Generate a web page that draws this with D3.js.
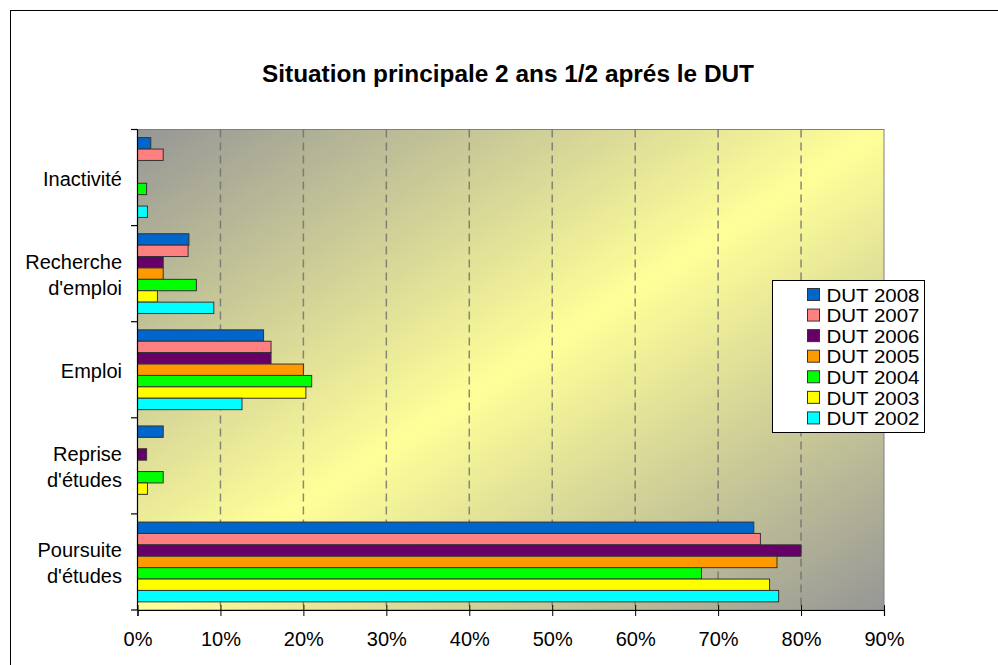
<!DOCTYPE html>
<html>
<head>
<meta charset="utf-8">
<script src="https://cdn.jsdelivr.net/npm/d3@7"></script>
<style>
  html, body { margin: 0; padding: 0; background: #fff; }
  svg { display: block; font-family: Arial, "Liberation Sans", sans-serif; }
</style>
</head>
<body>
<svg id="chart" width="998" height="665"></svg>
<script>
const title = "Situation principale 2 ans 1/2 aprés le DUT";
const categories = ["Inactivité", "Recherche d'emploi", "Emploi", "Reprise d'études", "Poursuite d'études"];
const categoryLines = [["Inactivité"], ["Recherche", "d'emploi"], ["Emploi"], ["Reprise", "d'études"], ["Poursuite", "d'études"]];
const series = ["DUT 2008", "DUT 2007", "DUT 2006", "DUT 2005", "DUT 2004", "DUT 2003", "DUT 2002"];
const colors = ["#0066CC", "#FF8080", "#660066", "#FF9900", "#00FF00", "#FFFF00", "#00FFFF"];
const dut2008 = [1.6, 6.2, 15.2, 3.1, 74.3];
const dut2007 = [3.1, 6.1, 16.1, null, 75.1];
const dut2006 = [null, 3.1, 16.1, 1.1, 80.0];
const dut2005 = [null, 3.1, 20.0, null, 77.1];
const dut2004 = [1.1, 7.1, 21.0, 3.1, 68.0];
const dut2003 = [null, 2.4, 20.3, 1.2, 76.2];
const dut2002 = [1.2, 9.2, 12.6, null, 77.3];
const seriesValues = [dut2008, dut2007, dut2006, dut2005, dut2004, dut2003, dut2002];
const xTicks = [0, 10, 20, 30, 40, 50, 60, 70, 80, 90];

const svg = d3.select("#chart");

// outer chart border
svg.append("rect").attr("x", 10.5).attr("y", 10.5).attr("width", 1200).attr("height", 1200)
  .attr("fill", "#fff").attr("stroke", "#000").attr("stroke-width", 1);

svg.append("text").attr("x", 508).attr("y", 82).attr("text-anchor", "middle")
  .attr("font-size", 24.4).attr("font-weight", "bold").attr("fill", "#000").text(title);

const plot = { left: 137.5, right: 884, top: 129.5, bottom: 610 };
const x = d3.scaleLinear().domain([0, 90]).range([plot.left, plot.right]);
const y = d3.scaleBand().domain(categories).range([plot.top, plot.bottom]).paddingInner(0).paddingOuter(0);
const yInner = d3.scaleBand().domain(series).range([0, y.bandwidth()]).paddingInner(0).paddingOuter(0.715);

// gradient background
const defs = svg.append("defs");
const grad = defs.append("linearGradient").attr("id", "bg")
  .attr("x1", 0).attr("y1", 0).attr("x2", 1).attr("y2", 1);
grad.append("stop").attr("offset", "0%").attr("stop-color", "#969696");
grad.append("stop").attr("offset", "50%").attr("stop-color", "#FFFF99");
grad.append("stop").attr("offset", "100%").attr("stop-color", "#969696");

svg.append("rect").attr("x", plot.left).attr("y", plot.top)
  .attr("width", plot.right - plot.left).attr("height", plot.bottom - plot.top)
  .attr("fill", "url(#bg)").attr("stroke", "#808080").attr("stroke-width", 1);

// gridlines
svg.append("g").selectAll("line").data(xTicks.filter(d => d > 0 && d < 90)).join("line")
  .attr("x1", d => x(d)).attr("x2", d => x(d))
  .attr("y1", plot.top).attr("y2", plot.bottom)
  .attr("stroke", "#6e6e6e").attr("stroke-width", 1.5).attr("stroke-dasharray", "8,5").attr("opacity", 0.8);

// bars
series.forEach((s, si) => {
  const data = categories.map((c, ci) => ({ c, v: seriesValues[si][ci] })).filter(d => d.v != null);
  svg.append("g").selectAll("rect").data(data).join("rect")
    .attr("x", x(0))
    .attr("y", d => y(d.c) + yInner(s))
    .attr("width", d => x(d.v) - x(0))
    .attr("height", yInner.bandwidth())
    .attr("fill", colors[si])
    .attr("stroke", "#333").attr("stroke-width", 1);
});

// x axis
const xAxis = d3.axisBottom(x).tickValues(xTicks).tickFormat(d => d + "%").tickSize(6).tickPadding(16);
const gx = svg.append("g").attr("transform", `translate(0,${plot.bottom})`).call(xAxis);
gx.select(".domain").attr("stroke", "#000").attr("stroke-width", 1.2);
gx.selectAll(".tick line").attr("stroke", "#000").attr("y1", -5).attr("y2", 6);
gx.selectAll(".tick text").attr("font-size", 20).attr("font-family", 'Arial, "Liberation Sans", sans-serif').attr("fill", "#000");

// y axis line and ticks at category boundaries
const yBoundaries = categories.map(c => y(c)).concat([plot.bottom]);
svg.append("line").attr("x1", plot.left).attr("x2", plot.left).attr("y1", plot.top).attr("y2", plot.bottom)
  .attr("stroke", "#000").attr("stroke-width", 1.2);
svg.append("g").selectAll("line").data(yBoundaries).join("line")
  .attr("x1", plot.left - 6.5).attr("x2", plot.left).attr("y1", d => d).attr("y2", d => d)
  .attr("stroke", "#000").attr("stroke-width", 1.2);

// category labels
const lineH = 26;
categories.forEach((c, i) => {
  const lines = categoryLines[i];
  const cy = y(c) + y.bandwidth() / 2;
  const t = svg.append("text").attr("text-anchor", "end").attr("font-size", 20).attr("fill", "#000");
  lines.forEach((l, li) => {
    t.append("tspan").attr("x", 122)
      .attr("y", cy + (li - (lines.length - 1) / 2) * lineH + 8).text(l);
  });
});

// legend
const lg = svg.append("g").attr("transform", "translate(772.5,280.5)");
lg.append("rect").attr("width", 152).attr("height", 152).attr("fill", "#fff").attr("stroke", "#000").attr("stroke-width", 1);
const rows = lg.selectAll("g").data(series).join("g")
  .attr("transform", (d, i) => `translate(0,${8 + i * 20.57})`);
rows.append("rect").attr("x", 35).attr("y", 0).attr("width", 12).attr("height", 12)
  .attr("fill", (d, i) => colors[i]).attr("stroke", "#333").attr("stroke-width", 1);
rows.append("text").attr("x", 54).attr("y", 13.2).attr("font-size", 18.3)
  .attr("textLength", 93).attr("lengthAdjust", "spacingAndGlyphs")
  .attr("fill", "#000").text(d => d);
</script>
</body>
</html>
